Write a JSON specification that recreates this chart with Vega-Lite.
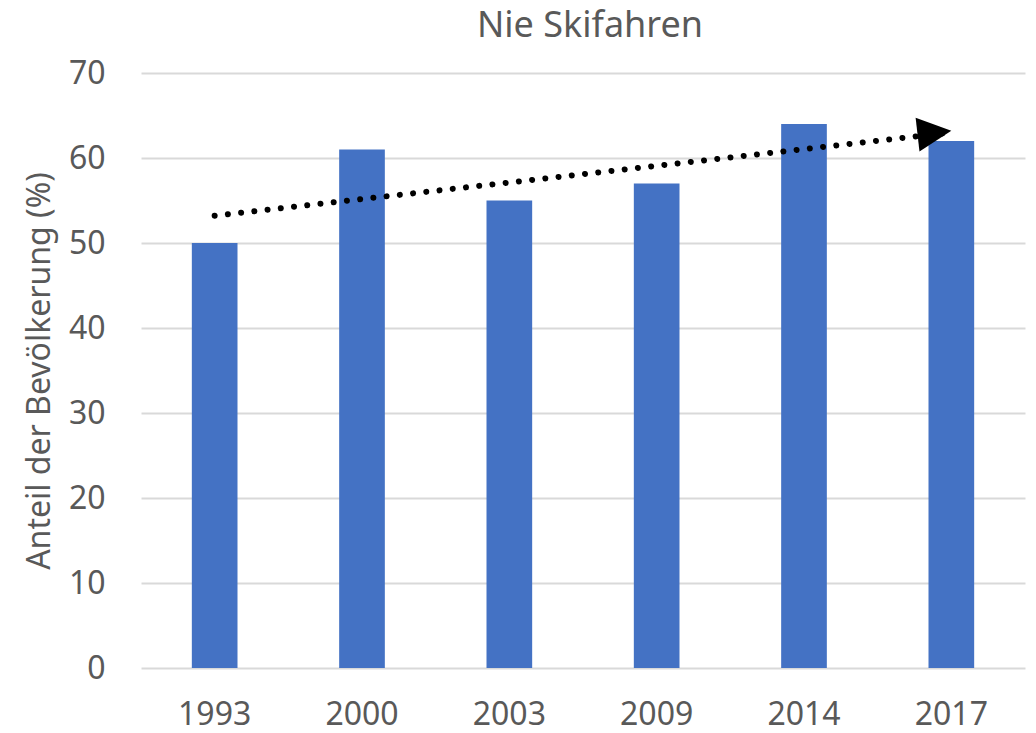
{
  "$schema": "https://vega.github.io/schema/vega-lite/v6.json",
  "autosize": {"type": "none"},
  "padding": {"left": 141, "top": 73, "right": 11, "bottom": 65},
  "width": 884,
  "height": 595,
  "background": "white",
  "title": {
    "text": "Nie Skifahren",
    "fontSize": 36,
    "font": "Noto Sans",
    "fontWeight": "normal",
    "color": "#595959",
    "anchor": "middle",
    "offset": 12,
    "dx": 7
  },
  "config": {
    "view": {"stroke": null},
    "font": "Noto Sans"
  },
  "layer": [
    {
      "data": {"values": [
        {"Jahr": "1993", "Anteil": 50},
        {"Jahr": "2000", "Anteil": 61},
        {"Jahr": "2003", "Anteil": 55},
        {"Jahr": "2009", "Anteil": 57},
        {"Jahr": "2014", "Anteil": 64},
        {"Jahr": "2017", "Anteil": 62}
      ]},
      "mark": {"type": "bar", "color": "#4472c4"},
      "encoding": {
        "x": {
          "field": "Jahr", "type": "nominal", "sort": null,
          "scale": {"paddingInner": 0.69, "paddingOuter": 0.345},
          "axis": {
            "title": null, "labelAngle": 0, "labelFontSize": 32, "labelColor": "#595959",
            "labelFont": "Noto Sans", "ticks": false, "domain": false, "labelPadding": 31
          }
        },
        "y": {
          "field": "Anteil", "type": "quantitative",
          "scale": {"domain": [0, 70], "nice": false},
          "axis": {
            "title": "Anteil der Bevölkerung (%)", "titleFontSize": 32, "titleFontWeight": "normal",
            "titleColor": "#595959", "titleFont": "Noto Sans", "titlePadding": 12,
            "labelFontSize": 32, "labelColor": "#595959", "labelFont": "Noto Sans",
            "labelPadding": 36, "ticks": false, "domain": false, "labelOverlap": false,
            "values": [0, 10, 20, 30, 40, 50, 60, 70],
            "gridColor": "#d9d9d9", "gridWidth": 2
          }
        }
      }
    },
    {
      "data": {"values": [
        {"Jahr": "1993", "Trend": 53.2},
        {"Jahr": "2017", "Trend": 63.0}
      ]},
      "mark": {"type": "line", "color": "black", "strokeWidth": 6, "strokeCap": "round", "strokeDash": [0.01, 13.3]},
      "encoding": {
        "x": {"field": "Jahr", "type": "nominal", "sort": null},
        "y": {"field": "Trend", "type": "quantitative"}
      }
    },
    {
      "data": {"values": [
        {"Jahr": "2017", "Trend": 63.2}
      ]},
      "mark": {"type": "point", "shape": "M0,0 L-1,-0.5 L-1,0.5 Z", "filled": true, "color": "black", "opacity": 1, "size": 4624, "angle": -6.5},
      "encoding": {
        "x": {"field": "Jahr", "type": "nominal", "sort": null},
        "y": {"field": "Trend", "type": "quantitative"}
      }
    }
  ]
}
